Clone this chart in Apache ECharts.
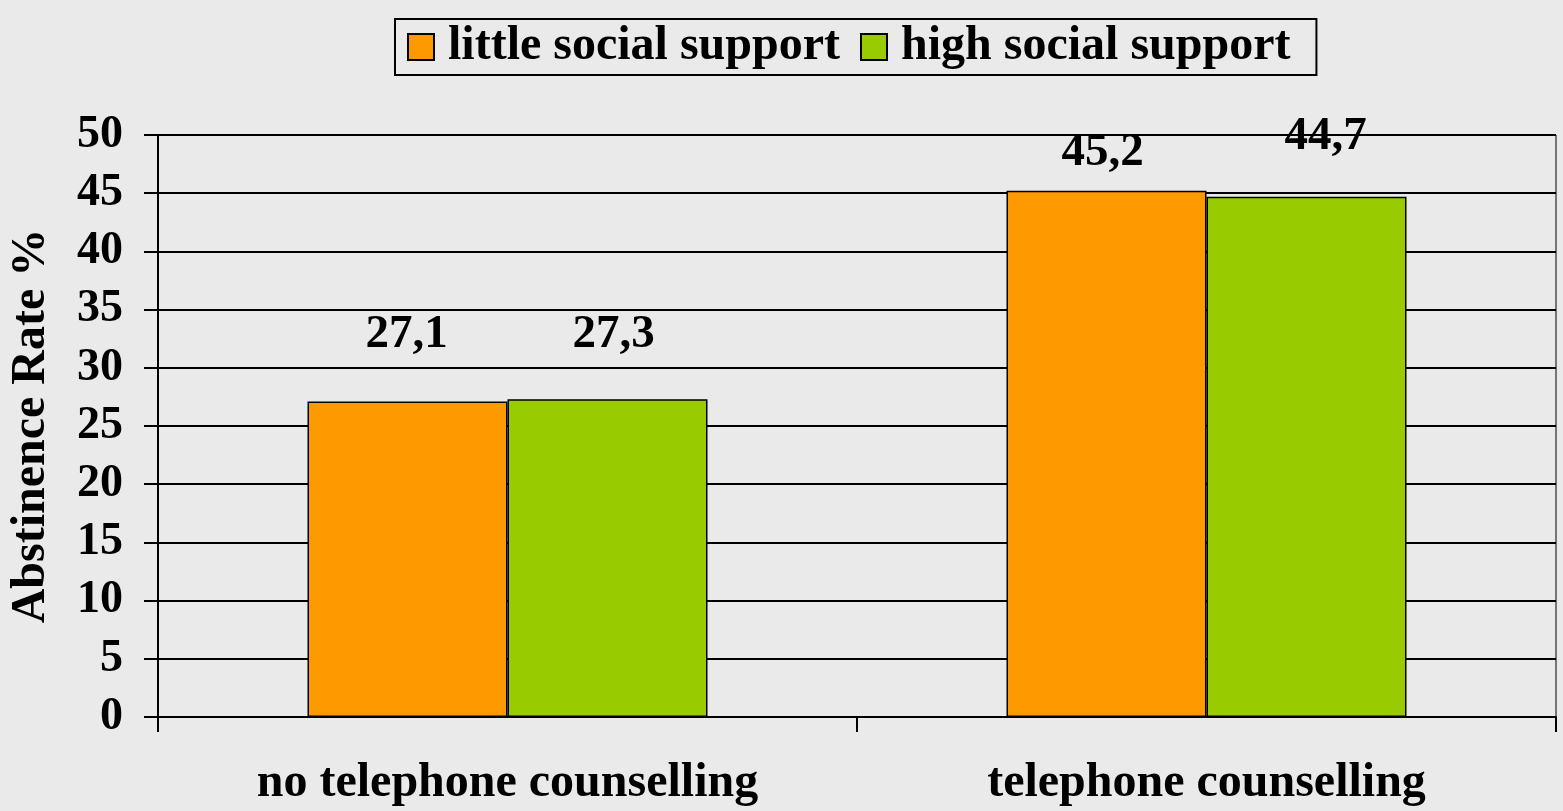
<!DOCTYPE html>
<html>
<head>
<meta charset="utf-8">
<script src="https://cdn.jsdelivr.net/npm/echarts@6/dist/echarts.min.js"></script>
<style>
  html, body { margin: 0; padding: 0; background: #eaeaea; }
  #chart { width: 1563px; height: 811px; }
</style>
</head>
<body>
<div id="chart"></div>
<script>
// data
var categories = ['no telephone counselling', 'telephone counselling'];
var seriesNames = ['little social support', 'high social support'];
var littleSupport = [27.1, 45.2];
var highSupport = [27.3, 44.7];
var yTicks = [0, 5, 10, 15, 20, 25, 30, 35, 40, 45, 50];

// label nudges, roughly where the original put them
var labelOffsets = [
  [[-1, -43], [-4, -15]],
  [[6, -41], [19, -36]]
];

var colors = ['#ff9900', '#99cc00'];
var font = 'Liberation Serif';

function makeData(values, s) {
  return values.map(function (v, i) {
    return {
      value: v,
      label: { offset: labelOffsets[s][i] }
    };
  });
}

var chart = echarts.init(document.getElementById('chart'));
chart.setOption({
  backgroundColor: '#eaeaea',
  animation: false,
  color: colors,
  textStyle: { fontFamily: font, fontWeight: 'bold', color: '#000' },
  legend: {
    left: 395,
    top: 19,
    data: seriesNames,
    icon: 'rect',
    itemWidth: 26,
    itemHeight: 26,
    itemGap: 20,
    padding: [4, 26, 4, 12],
    borderColor: '#000',
    borderWidth: 2,
    textStyle: {
      fontFamily: font, fontWeight: 'bold', fontSize: 48, color: '#000',
      padding: [0, 0, 0, 9]
    }
  },
  grid: {
    left: 157,
    right: 7,
    top: 135,
    bottom: 94,
    show: true,
    borderColor: '#000',
    borderWidth: 1,
    backgroundColor: 'transparent'
  },
  xAxis: {
    type: 'category',
    data: categories,
    axisLine: { lineStyle: { color: '#000', width: 2 } },
    axisTick: { show: true, length: 15, lineStyle: { color: '#000', width: 2 } },
    axisLabel: {
      margin: 43,
      fontFamily: font, fontWeight: 'bold', fontSize: 48, color: '#000'
    }
  },
  yAxis: {
    type: 'value',
    min: yTicks[0],
    max: yTicks[yTicks.length - 1],
    interval: yTicks[1] - yTicks[0],
    name: 'Abstinence Rate %',
    nameLocation: 'middle',
    nameRotate: 90,
    nameGap: 102,
    nameTextStyle: { fontFamily: font, fontWeight: 'bold', fontSize: 48, color: '#000' },
    axisLine: { show: true, lineStyle: { color: '#000', width: 2 } },
    axisTick: { show: true, length: 14, lineStyle: { color: '#000', width: 2 } },
    axisLabel: {
      margin: 35,
      fontFamily: font, fontWeight: 'bold', fontSize: 46, color: '#000'
    },
    splitLine: { show: true, lineStyle: { color: '#000', width: 2 } }
  },
  series: [
    {
      name: seriesNames[0],
      type: 'bar',
      barWidth: 200,
      barGap: '0%',
      data: makeData(littleSupport, 0),
      itemStyle: { borderColor: '#000', borderWidth: 1.5 },
      label: {
        show: true,
        position: 'top',
        distance: 0,
        fontFamily: font, fontWeight: 'bold', fontSize: 47, color: '#000',
        formatter: function (p) { return String(p.value).replace('.', ','); }
      }
    },
    {
      name: seriesNames[1],
      type: 'bar',
      barWidth: 200,
      barGap: '0%',
      data: makeData(highSupport, 1),
      itemStyle: { borderColor: '#000', borderWidth: 1.5 },
      label: {
        show: true,
        position: 'top',
        distance: 0,
        fontFamily: font, fontWeight: 'bold', fontSize: 47, color: '#000',
        formatter: function (p) { return String(p.value).replace('.', ','); }
      }
    }
  ]
});
</script>
</body>
</html>
